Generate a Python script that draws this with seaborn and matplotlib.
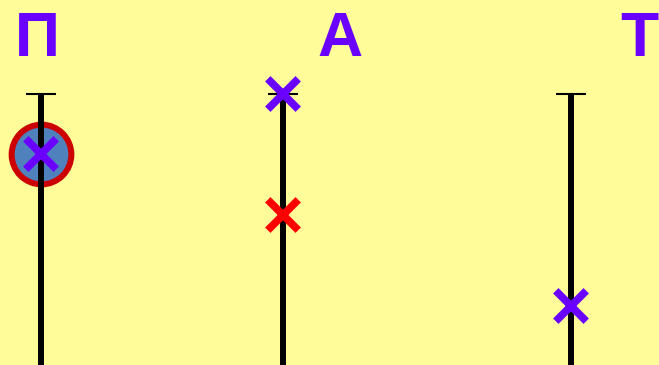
import matplotlib
matplotlib.use('Agg')
import matplotlib.pyplot as plt
import numpy as np
import pandas as pd
import seaborn as sns

## three letter columns with vertical rods and cross markers

letters = ['П', 'А', 'Т']
letter_x = [37, 340, 639]
letter_y = [40, 40, 40]

rod_x = [41, 283, 571]
rod_top = [94, 94, 94]
rod_bottom = [400, 400, 400]

cross_x = [41, 283, 283, 571]
cross_y = [154, 94, 215, 306]
cross_kind = ['purple', 'purple', 'red', 'purple']

circle_x = [41]
circle_y = [154]

bg = '#FFFC99'
purple = '#6A00FF'

sns.set_style('white')
plt.rcParams['font.family'] = ['Liberation Sans', 'DejaVu Sans']

fig = plt.figure(figsize=(6.59, 3.65), dpi=100)
fig.patch.set_facecolor(bg)
ax = fig.add_axes([0, 0, 1, 1])
ax.set_facecolor(bg)
ax.set_xlim(0, 659)
ax.set_ylim(365, 0)
ax.axis('off')

# circle behind the rod
circ = pd.DataFrame({'x': circle_x, 'y': circle_y})
sns.scatterplot(data=circ, x='x', y='y', ax=ax, s=1850, color='#4F81BD',
                edgecolor='#CC0000', linewidth=4.3, zorder=1, legend=False)

ax.vlines(rod_x, rod_top, rod_bottom, color='black', linewidth=4.3, zorder=2)
ax.hlines(rod_top, np.array(rod_x) - 15, np.array(rod_x) + 15, color='black',
          linewidth=1.5, zorder=2)

crosses = pd.DataFrame({'x': cross_x, 'y': cross_y, 'kind': cross_kind})
sns.scatterplot(data=crosses, x='x', y='y', hue='kind', ax=ax, marker='x',
                s=480, linewidth=5.5, zorder=3, legend=False,
                palette={'purple': purple, 'red': '#FF0000'})

for t, x, y in zip(letters, letter_x, letter_y):
    ax.text(x, y, t, color=purple, fontsize=45, fontweight='bold',
            ha='center', va='center')

ax.set_xlim(0, 659)
ax.set_ylim(365, 0)
fig.savefig('out.png', dpi=100, facecolor=bg)
